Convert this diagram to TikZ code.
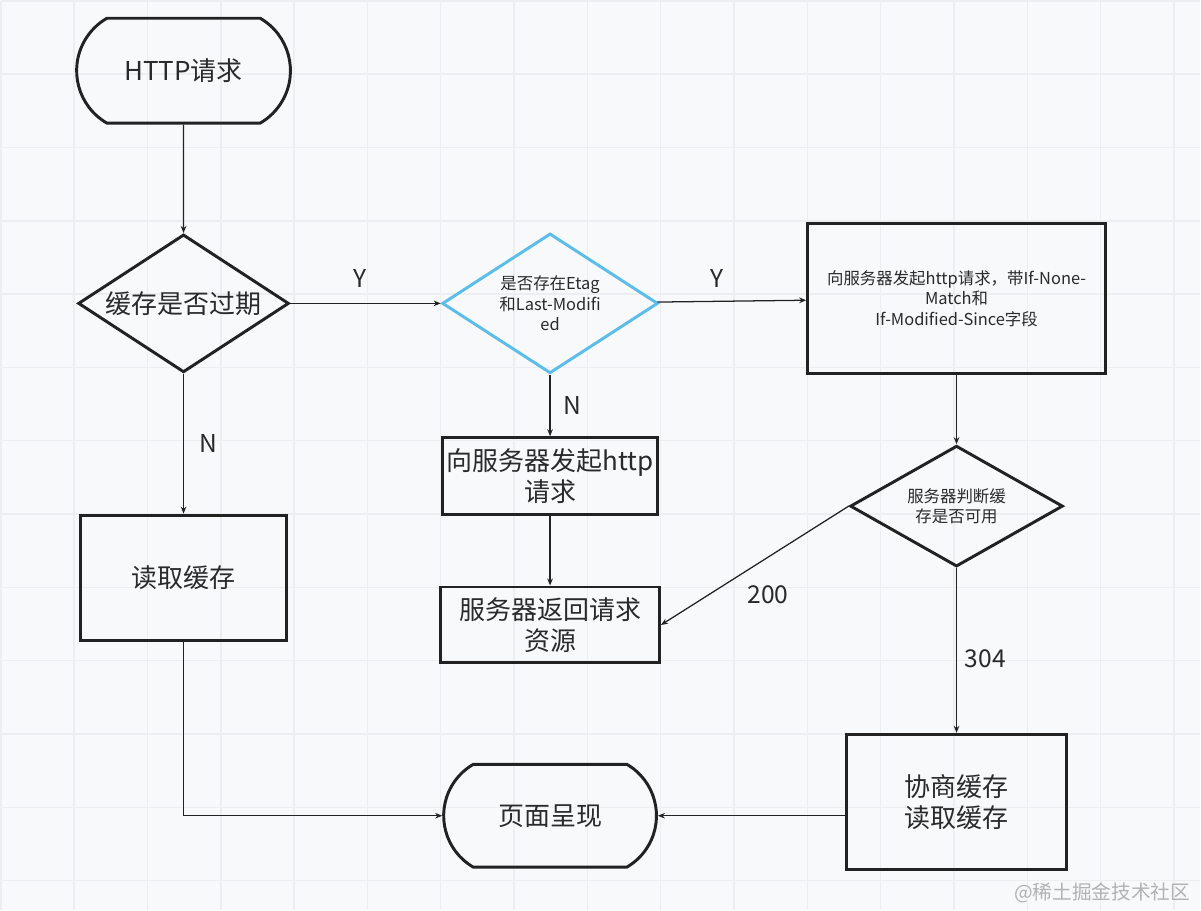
\documentclass[tikz,border=0pt]{standalone}
\usepackage{fontspec}
\setmainfont{Noto Sans CJK SC}
\usepackage{tikz}
\usetikzlibrary{shapes.geometric,shapes.misc,arrows.meta}
\definecolor{ink}{HTML}{222222}
\definecolor{txt}{HTML}{2A2A2A}
\definecolor{sky}{HTML}{5DBDE9}
\definecolor{paper}{HTML}{F8F9FB}
\definecolor{gridc}{HTML}{ECEEF1}
\definecolor{mark}{HTML}{B2B2B2}

\begin{document}
\begin{tikzpicture}[x=0.025cm, y=-0.025cm,
    lab/.style   = {font=\fontsize{17.5pt}{21pt}\selectfont, inner sep=0pt},
    big/.style   = {font=\fontsize{18.5pt}{22pt}\selectfont},
    small/.style = {font=\fontsize{11.7pt}{14.6pt}\selectfont},
    box/.style   = {draw=ink, line width=2.1pt, rectangle, inner sep=0pt},
    term/.style  = {draw=ink, line width=2.1pt, rounded rectangle,
                    rounded rectangle arc length=120, inner sep=0pt},
    ask/.style   = {draw=ink, line width=2.1pt, diamond, inner sep=0pt},
    flow/.style  = {draw=ink, line width=0.9pt, -{Stealth[length=5pt,width=4pt]}}
  ]
  \tikzset{every node/.style={text=txt, align=center}}
  % canvas
  \fill[paper] (0,0) rectangle (1201,910);
  \draw[gridc, line width=1.1pt, step=1.835cm] (0,910) grid (1201,0);
  \useasboundingbox (0,0) rectangle (1201,910);

  \node[term, big, minimum width=5.35cm, minimum height=2.625cm] (http) at (183,70) {HTTP请求};
  \node[ask, big, shape aspect=1.53, minimum width=5.275cm, minimum height=3.45cm] (expired) at (183,303) {缓存是否过期};
  \node[ask, small, draw=sky, shape aspect=1.54, minimum width=5.4cm, minimum height=3.5cm] (etag) at (550,303) {是否存在Etag\\和Last-Modifi\\ed};
  \node[box, small, minimum width=7.45cm, minimum height=3.75cm] (withtag) at (957,298) {向服务器发起http请求，带If-None-\\Match和\\If-Modified-Since字段};
  \node[box, big, minimum width=5.4cm, minimum height=1.925cm] (fetch) at (550,476) {向服务器发起http\\请求};
  \node[box, big, minimum width=5.475cm, minimum height=1.9cm] (reply) at (550,625) {服务器返回请求\\资源};
  \node[ask, small, shape aspect=1.76, minimum width=5.325cm, minimum height=3.025cm] (check) at (957,506) {服务器判断缓\\存是否可用};
  \node[box, big, minimum width=5.175cm, minimum height=3.15cm] (cache) at (183,578) {读取缓存};
  \node[box, big, minimum width=5.525cm, minimum height=3.375cm] (nego) at (957,802) {协商缓存\\读取缓存};
  \node[term, big, minimum width=5.325cm, minimum height=2.575cm] (page) at (550,816) {页面呈现};
  \node[anchor=east, text=mark, font=\fontsize{14pt}{16pt}\selectfont] (sign) at (1196,893) {@稀土掘金技术社区};

  \path
    (http) edge [flow] (expired)
    (expired) edge [flow] node [pos=0.46, above=0.38cm, lab] {Y} (etag)
    (etag) edge [flow] node [pos=0.4, above=0.32cm, lab] {Y} (withtag)
    (expired) edge [flow] node [right=0.38cm, lab] {N} (cache)
    (etag) edge [flow] node [right=0.31cm, lab] {N} (fetch)
    (fetch) edge [flow] (reply)
    (withtag) edge [flow] (check)
    (check.west) edge [flow] node [pos=0.43, below=0.7cm, lab] {200} (reply.east)
    (check) edge [flow] node [pos=0.55, right=0.19cm, lab] {304} (nego);
  \draw[flow] (cache.south) |- (page.west);
  \draw[flow] (nego.west |- page.east) -- (page.east);
\end{tikzpicture}
\end{document}
